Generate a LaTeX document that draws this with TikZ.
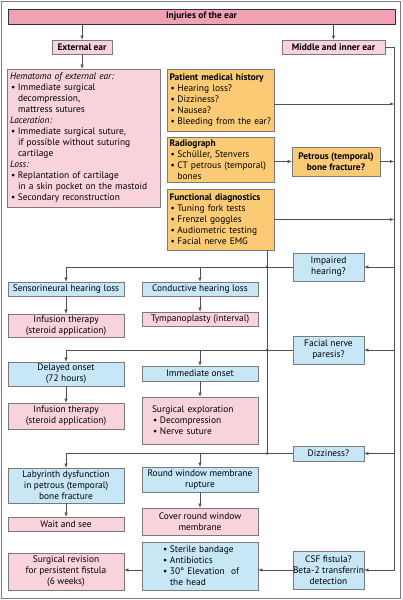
\documentclass[tikz,border=0pt]{standalone}
\usepackage{fontspec}
\setmainfont{PT Sans}
\usetikzlibrary{arrows.meta}
\definecolor{pinkL}{HTML}{F9D3DC}
\definecolor{pinkD}{HTML}{F0A1B6}
\definecolor{yel}{HTML}{FACB74}
\definecolor{blu}{HTML}{C8E7F6}
\definecolor{bord}{HTML}{7A7A7A}
\definecolor{lin}{HTML}{505050}
\newcommand\fs{\fontsize{9.4}{11}\selectfont}
\newcommand\bl{\makebox[8pt][l]{\hspace{1pt}\textbullet}}
\newcommand\ind{\hspace*{8pt}}
\newcommand\bx[7]{\node[#6, minimum width={(#4)-(#2)}, minimum height={(#5)-(#3)}] (#1) at ({((#2)+(#4))/2},{((#3)+(#5))/2}) {#7};}
\tikzset{
  base/.style={draw=bord, line width=0.6pt, inner sep=0pt, align=center, font=\fs},
  pk/.style={base, fill=pinkL},
  ybox/.style={base, fill=yel},
  bbox/.style={base, fill=blu},
  ln/.style={draw=lin, line width=0.5pt},
  arr/.style={ln, -{Latex[length=4pt,width=3.2pt]}},
  jdot/.style={fill=lin}
}
\begin{document}
\begin{tikzpicture}[x=1pt,y=-1pt]
\useasboundingbox (0,0) rectangle (402,600);
\draw[bord, line width=1pt] (1,1) rectangle (400.5,598.5);

\bx{title}{8}{9}{395}{24}{base, fill=pinkD, draw=black!80, line width=0.8pt, font=\fs\bfseries}{Injuries of the ear}
\bx{ext}{52}{40}{112}{54}{pk, font=\fs\bfseries}{External ear}
\bx{mie}{282}{40}{385}{54}{pk, font=\fs\bfseries}{Middle and inner ear}
\bx{extb}{8}{69}{160}{207}{pk, align=left, text width=148pt, inner xsep=2.5pt}{\textit{Hematoma of external ear:}\\ \bl Immediate surgical\\ \ind decompression,\\ \ind mattress sutures\\ \textit{Laceration:}\\ \bl Immediate surgical suture,\\ \ind if possible without suturing\\ \ind cartilage\\ \textit{Loss:}\\ \bl Replantation of cartilage\\ \ind \mbox{in a skin pocket on the mastoid}\\ \bl Secondary reconstruction}

\bx{pmh}{167}{69}{274}{131}{ybox, align=left, text width=102pt, inner xsep=2.5pt}{\mbox{\textbf{Patient medical history}}\\ \bl Hearing loss?\\ \bl Dizziness?\\ \bl Nausea?\\ \bl \mbox{Bleeding from the ear?}}
\bx{radio}{167}{137}{274}{182}{ybox, align=left, text width=102pt, inner xsep=2.5pt}{\textbf{Radiograph}\\ \bl Schüller, Stenvers\\ \bl \mbox{CT petrous (temporal)}\\ \ind bones}
\bx{petr}{292}{147}{380}{176}{ybox, font=\fs\bfseries}{Petrous (temporal)\\bone fracture?}
\bx{func}{167}{189}{274}{250}{ybox, align=left, text width=102pt, inner xsep=2.5pt}{\mbox{\textbf{Functional diagnostics}}\\ \bl Tuning fork tests\\ \bl Frenzel goggles\\ \bl Audiometric testing\\ \bl Facial nerve EMG}

\bx{imp}{293}{253}{364}{281}{bbox}{Impaired\\hearing?}
\bx{sens}{8}{282}{124}{296}{bbox}{Sensorineural hearing loss}
\bx{cond}{142}{282}{258}{296}{bbox}{Conductive hearing loss}
\bx{inf1}{8}{314}{124}{337}{pk}{Infusion therapy\\(steroid application)}
\bx{tymp}{142}{312}{258}{326}{pk}{Tympanoplasty (interval)}

\bx{fac}{293}{336}{364}{364}{bbox}{Facial nerve\\paresis?}
\bx{del}{8}{362}{124}{386}{bbox}{Delayed onset\\(72 hours)}
\bx{imm}{142}{366}{258}{381}{bbox}{Immediate onset}
\bx{inf2}{8}{403}{124}{429}{pk}{Infusion therapy\\(steroid application)}
\bx{surg}{142}{397}{258}{444}{pk, align=left, text width=96pt, inner xsep=10pt}{Surgical exploration\\ \bl Decompression\\ \bl Nerve suture}

\bx{dizz}{293}{446}{364}{461}{bbox}{Dizziness?}
\bx{lab}{8}{468}{124}{503}{bbox}{Labyrinth dysfunction\\in petrous (temporal)\\bone fracture}
\bx{rwm}{142}{467}{258}{492}{bbox}{Round window membrane\\rupture}
\bx{wait}{8}{517}{124}{531}{pk}{Wait and see}
\bx{cover}{142}{508}{258}{535}{pk}{Cover round window\\membrane}

\bx{ster}{142}{542}{258}{590}{bbox, align=left, text width=76pt, inner xsep=20pt}{\bl Sterile bandage\\ \bl Antibiotics\\ \bl \mbox{30° Elevation\ \ of}\\ \ind the head}
\bx{csf}{293}{551}{364}{589}{bbox}{CSF fistula?\\Beta-2 transferrin\\detection}
\bx{rev}{8}{553}{124}{590}{pk}{Surgical revision\\for persistent fistula\\(6 weeks)}

\coordinate (rv) at (394,47);
\coordinate (vx) at (267,250);

\draw[arr] (title.south -| ext) -- (ext.north);
\draw[arr] (title.south -| mie) -- (mie.north);
\draw[arr] (ext.south) -- (ext.south |- extb.north);
\draw[arr] (mie.east) -| (rv |- csf.east) -- (csf.east);
\draw[arr] ([yshift=-4pt]pmh.east) -- ([yshift=-4pt]pmh.east -| rv);
\draw[arr] (radio.east |- petr.west) -- (petr.west);
\draw[arr] (petr.east) -- (petr.east -| rv);
\draw[arr] (func.east) -- (func.east -| rv);
\draw[arr] (rv |- imp.east) -- (imp.east);
\draw[arr] (rv |- fac.east) -- (fac.east);
\draw[arr] (rv |- dizz.east) -- (dizz.east);
\draw[ln] (vx) -- (vx |- dizz.west);

\draw[arr] (imp.west) -| (sens.north);
\draw[arr] (cond.north |- imp.west) -- (cond.north);
\draw[arr] (sens) -- (inf1);
\draw[arr] (cond) -- (tymp);

\draw[arr] (fac.west) -| (del.north);
\draw[arr] (imm.north |- fac.west) -- (imm.north);
\draw[arr] (del) -- (inf2);
\draw[arr] (imm) -- (surg);

\draw[arr] (dizz.west) -| (lab.north);
\draw[arr] (rwm.north |- dizz.west) -- (rwm.north);
\draw[arr] (lab) -- (wait);
\draw[arr] (rwm) -- (cover);

\draw[arr] (csf.west) -- (csf.west -| ster.east);
\draw[arr] (ster.west |- csf.west) -- (rev.east |- csf.west);

\fill[jdot] (vx |- imp.west) circle (1.3pt);
\fill[jdot] (vx |- fac.west) circle (1.3pt);
\fill[jdot] (vx |- dizz.west) circle (1.3pt);
\end{tikzpicture}
\end{document}
